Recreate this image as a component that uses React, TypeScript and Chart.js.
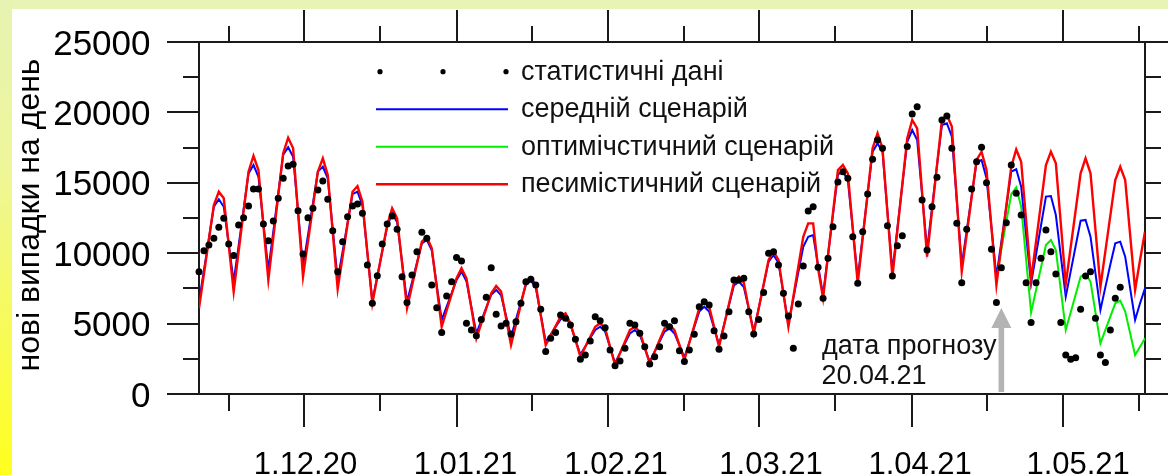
import React, { useEffect, useRef } from 'react';
import { Chart, registerables } from 'chart.js';

Chart.register(...registerables);

// ---- data (day index 0 = first observation) ----
const statData: number[] = [
  8690, 10180, 10580, 11060, 11840, 12480, 10650, 9830, 12000, 12520,
  13350, 14560, 14560, 12070, 10890, 12290, 13900, 15320, 16190, 16310,
  13020, 9940, 12520, 13190, 14490, 15130, 13830, 11600, 8690, 10820,
  12590, 13350, 13490, 12830, 9160, 6440, 8400, 10650, 12070, 12640,
  11700, 8330, 6490, 8450, 10110, 11480, 11060, 7740, 6130, 4360,
  6960, 7980, 9700, 9450, 5020, 4550, 4140, 5300, 6870, 8970,
  5660, 4830, 5020, 4260, 5130, 6440, 7980, 8150, 7740, 6020,
  3010, 3960, 4360, 5610, 5380, 4900, 3890, 2470, 2770, 3770,
  5490, 5210, 4710, 3130, 2010, 2350, 3250, 5020, 4900, 4310,
  3360, 2130, 2650, 3360, 5020, 4780, 5210, 3080, 2300, 3130,
  4240, 6200, 6560, 6320, 4500, 3180, 4120, 5850, 8100, 8100,
  8220, 5850, 4260, 5300, 7200, 9990, 10110, 9160, 7150, 5540,
  3250, 6390, 9090, 13000, 13300, 9000, 6800, 9640, 11880, 15050,
  15790, 15320, 11170, 7860, 11530, 14200, 16670, 18040, 17450, 11950,
  8380, 10530, 11240, 17570, 19890, 20410, 13780, 10230, 13300, 15390,
  19460, 19750, 17450, 12120, 7910, 11700, 14560, 16500, 17520, 15010,
  10280, 6490, 8970, 12170, 16260, 14250, 12710, 7910, 5070, 7910,
  9640, 11650, 10110, 8520, 5070, 2770, 2470, 2580, 6020, 8380,
  8690, 5380, 2770, 2230, 4550, 6800, 7580,
];

const pessimisticData: number[] = [
  6090, 8530, 10980, 13420, 14370, 13900, 10590, 7270, 10110, 12950,
  15790, 16920, 15910, 12000, 8100, 11100, 14090, 17090, 18200, 17450,
  12890, 8330, 10820, 13300, 15790, 16740, 15550, 11500, 7460, 9760,
  12070, 14370, 14770, 13660, 10050, 6440, 8290, 10150, 12000, 13190,
  12480, 9290, 6090, 7670, 9240, 10820, 11170, 10350, 7570, 4780,
  5930, 7080, 8220, 8930, 8220, 6090, 3950, 5020, 6080, 7150,
  7670, 7270, 5380, 3480, 4940, 6400, 7860, 8290, 7740, 5610,
  3480, 4150, 4820, 5490, 5730, 5020, 3840, 2650, 3360, 4070,
  4780, 5020, 4660, 3360, 2060, 2890, 3710, 4540, 4780, 4420,
  3300, 2180, 3010, 3840, 4660, 4900, 4540, 3480, 2420, 3640,
  4860, 6080, 6560, 6200, 4780, 3360, 4870, 6390, 7900, 8330,
  7900, 6100, 4310, 6050, 7780, 9520, 10110, 9520, 7150, 4780,
  6910, 9040, 11170, 12120, 12120, 8900, 6800, 9840, 12870, 15910,
  16260, 15670, 11770, 7860, 11060, 14250, 17450, 18520, 17450, 12890,
  8330, 11610, 14880, 18160, 19460, 18870, 14310, 9750, 12990, 16220,
  19460, 19820, 18990, 13840, 8690, 11330, 13980, 16620, 17210, 15910,
  11830, 7740, 10540, 13340, 16140, 17370, 16500, 12300, 8100, 10820,
  13540, 16260, 17210, 16380, 12100, 7810, 10430, 13050, 15670, 16740,
  15670, 11650, 7620, 10150, 12670, 15200, 16140, 15200, 11300, 7390,
  9520, 11530,
];

const averageData: number[] = [
  6550, 8800, 11050, 13300, 13830, 13300, 10640, 7980, 10540, 13110,
  15670, 16260, 15430, 12120, 8810, 11540, 14270, 17000, 17520, 16850,
  12950, 9040, 11290, 13540, 15800, 16140, 15320, 11710, 8100, 10130,
  12170, 14200, 14370, 13400, 10000, 6600, 8370, 10130, 11900, 12830,
  12200, 9380, 6560, 7940, 9320, 10700, 10940, 10200, 7730, 5260,
  6210, 7150, 8100, 8690, 8000, 6160, 4310, 5220, 6140, 7050,
  7390, 7000, 5540, 4070, 5300, 6530, 7750, 8050, 7550, 5630,
  3700, 4230, 4770, 5300, 5490, 4900, 3850, 2800, 3380, 3970,
  4550, 4780, 4430, 3320, 2200, 2900, 3600, 4300, 4550, 4200,
  3250, 2300, 3010, 3720, 4430, 4660, 4300, 3450, 2600, 3680,
  4770, 5850, 6200, 5850, 4680, 3500, 4900, 6300, 7700, 7980,
  7600, 6030, 4450, 6100, 7750, 9400, 9870, 9300, 7130, 4950,
  6790, 8630, 10460, 11170, 11290, 9100, 7030, 9890, 12740, 15600,
  15790, 15200, 11710, 8220, 11210, 14200, 17200, 17800, 17210, 12950,
  8690, 11760, 14830, 17900, 18750, 18040, 14140, 10230, 13230, 16230,
  19100, 19230, 18280, 13720, 9160, 11610, 14060, 16500, 16620, 15320,
  11830, 8330, 10820, 13300, 15790, 15960, 14720, 11290, 7860, 9910,
  11970, 14020, 14060, 12710, 9810, 6910, 8710, 10510, 12310, 12360,
  11170, 8570, 5970, 7590, 9200, 10700, 10820, 9750, 7500, 5260,
  6440, 7510,
];

const optimisticStartDay = 161;
const optimisticData: number[] = [
  8330, 10290, 12250, 14200, 14680, 13300, 9540, 5780, 7380, 8980,
  10580, 10940, 10230, 7390, 4550, 5810, 7070, 8330, 8520, 7980,
  5790, 3600, 4550, 5490, 6440, 6630, 5850, 4310, 2770, 3360,
  3960,
];

const yTickValues = [0, 2500, 5000, 7500, 10000, 12500, 15000, 17500, 20000, 22500, 25000];
const yTickLabels = ['0', '5000', '10000', '15000', '20000', '25000'];
const xMajorTicks = [21.2, 52.0, 82.6, 113.1, 143.9, 174.4];
const xMinorTicks = [6.1, 36.5, 67.2, 97.9, 128.4, 159.1, 189.8];
const xLabelPositions = [21.5, 53.8, 84.2, 115.5, 145.6, 177.5];
const xTickLabels = ['1.12.20', '1.01.21', '1.02.21', '1.03.21', '1.04.21', '1.05.21'];
const legendLabels = [
  'статистичні дані',
  'середній сценарій',
  'оптимічстичний сценарій',
  'песимістичний сценарій',
];
const yTitle = 'нові випадки на день';
const forecastDay = 162;
const forecastLines = ['дата прогнозу', '20.04.21'];

const FONT = '"Liberation Sans", Arial, Helvetica, sans-serif';
const AXIS = '#1a1a1a';
const RED = '#ff0000';
const BLUE = '#0000ff';
const GREEN = '#00ee00';

const framePlugin = {
  id: 'frame',
  beforeDatasetsDraw(chart: any) {
    const { ctx, chartArea: a, scales } = chart;
    const x = scales.x;
    const y = scales.y;
    const W = chart.width;
    const seg = (x1: number, y1: number, x2: number, y2: number) => {
      ctx.beginPath();
      ctx.moveTo(x1, y1);
      ctx.lineTo(x2, y2);
      ctx.stroke();
    };
    ctx.save();
    ctx.strokeStyle = AXIS;
    ctx.lineWidth = 2;
    ctx.lineCap = 'butt';
    const axStart = a.left - 32;
    seg(axStart, a.top, W, a.top);
    seg(axStart, a.bottom, W, a.bottom);
    seg(a.left, a.top, a.left, a.bottom);
    seg(a.right, a.top, a.right, a.bottom);
    for (const v of yTickValues) {
      const py = Math.round(y.getPixelForValue(v));
      const major = v % 5000 === 0;
      seg(major ? a.left - 32 : a.left - 16, py, a.left, py);
      seg(a.right, py, a.right + 16, py);
    }
    for (const v of xMajorTicks) {
      const px = Math.round(x.getPixelForValue(v));
      seg(px, a.bottom, px, a.bottom + 33);
      seg(px, a.top, px, a.top - 32);
    }
    for (const v of xMinorTicks) {
      const px = Math.round(x.getPixelForValue(v));
      seg(px, a.bottom, px, a.bottom + 17);
      seg(px, a.top, px, a.top - 16);
    }
    // y tick labels
    ctx.fillStyle = '#000';
    ctx.font = `35px ${FONT}`;
    ctx.textAlign = 'right';
    ctx.textBaseline = 'alphabetic';
    yTickLabels.forEach((lbl) => {
      const py = y.getPixelForValue(Number(lbl));
      ctx.fillText(lbl, 150.5, py + 12.5);
    });
    // x tick labels
    ctx.font = `31px ${FONT}`;
    ctx.textAlign = 'center';
    xTickLabels.forEach((lbl, i) => {
      const px = x.getPixelForValue(xLabelPositions[i]);
      ctx.fillText(lbl, px, 474);
    });
    // y title
    ctx.save();
    ctx.font = `32px ${FONT}`;
    ctx.translate(39, 215);
    ctx.rotate(-Math.PI / 2);
    ctx.textAlign = 'center';
    ctx.fillText(yTitle, 0, 0);
    ctx.restore();
    ctx.restore();
  },
  afterDraw(chart: any) {
    const { ctx, scales } = chart;
    const x = scales.x;
    ctx.save();
    // legend
    const rows = [71.7, 109.3, 146.8, 184.3];
    const colors = ['#000', BLUE, GREEN, RED];
    ctx.font = `27px ${FONT}`;
    ctx.textAlign = 'left';
    ctx.textBaseline = 'alphabetic';
    ctx.fillStyle = '#000';
    [380, 443, 506].forEach((px) => {
      ctx.beginPath();
      ctx.arc(px, rows[0], 2.6, 0, Math.PI * 2);
      ctx.fill();
    });
    for (let i = 1; i < 4; i++) {
      ctx.strokeStyle = colors[i];
      ctx.lineWidth = i === 3 ? 2.4 : 2;
      ctx.beginPath();
      ctx.moveTo(376, rows[i]);
      ctx.lineTo(508, rows[i]);
      ctx.stroke();
    }
    ctx.fillStyle = '#111';
    legendLabels.forEach((lbl, i) => {
      ctx.fillText(lbl, 521, rows[i] + 8);
    });
    // forecast annotation
    ctx.fillText(forecastLines[0], 822, 354);
    ctx.fillText(forecastLines[1], 821.5, 383.5);
    // arrow
    const ax = x.getPixelForValue(forecastDay);
    ctx.fillStyle = '#b3b3b3';
    ctx.beginPath();
    ctx.moveTo(ax, 308);
    ctx.lineTo(ax + 10, 328);
    ctx.lineTo(ax + 2.8, 328);
    ctx.lineTo(ax + 2.8, 392);
    ctx.lineTo(ax - 2.8, 392);
    ctx.lineTo(ax - 2.8, 328);
    ctx.lineTo(ax - 10, 328);
    ctx.closePath();
    ctx.fill();
    ctx.restore();
  },
};

export default function App() {
  const ref = useRef<HTMLCanvasElement | null>(null);
  useEffect(() => {
    if (!ref.current) return;
    const chart = new Chart(ref.current, {
      type: 'line',
      data: {
        datasets: [
          {
            label: legendLabels[0],
            data: statData.map((v, i) => ({ x: i, y: v })),
            showLine: false,
            pointRadius: 3.5,
            pointBackgroundColor: '#000',
            pointBorderWidth: 0,
            borderColor: '#000',
            clip: false as any,
          },
          {
            label: legendLabels[3],
            data: pessimisticData.map((v, i) => ({ x: i, y: v })),
            borderColor: RED,
            borderWidth: 2.4,
            pointRadius: 0,
            tension: 0,
          },
          {
            label: legendLabels[1],
            data: averageData.map((v, i) => ({ x: i, y: v })),
            borderColor: BLUE,
            borderWidth: 2,
            pointRadius: 0,
            tension: 0,
          },
          {
            label: legendLabels[2],
            data: optimisticData.map((v, i) => ({ x: optimisticStartDay + i, y: v })),
            borderColor: GREEN,
            borderWidth: 2,
            pointRadius: 0,
            tension: 0,
          },
        ],
      },
      options: {
        responsive: false,
        maintainAspectRatio: false,
        animation: false,
        events: [],
        layout: { padding: { left: 199, right: 23, top: 42, bottom: 81 } },
        plugins: { legend: { display: false }, tooltip: { enabled: false } },
        scales: {
          x: { type: 'linear', display: false, min: 0, max: 191 },
          y: { type: 'linear', display: false, min: 0, max: 25000 },
        },
      },
      plugins: [framePlugin],
    } as any);
    return () => chart.destroy();
  }, []);

  return (
    <div style={{ position: 'fixed', left: 0, top: 0, width: 1168, height: 475, overflow: 'hidden', background: '#fff' }}>
      <div style={{ position: 'absolute', left: 0, top: 0, width: 1168, height: 9, background: '#e8f4b4' }} />
      <div
        style={{
          position: 'absolute', left: 0, top: 0, width: 12, height: 475,
          background: 'linear-gradient(to bottom, #e6f3b2 0%, #eef69a 35%, #f6fa60 65%, #ffff1e 100%)',
        }}
      />
      <canvas ref={ref} width={1168} height={475} style={{ position: 'absolute', left: 0, top: 0 }} />
    </div>
  );
}
